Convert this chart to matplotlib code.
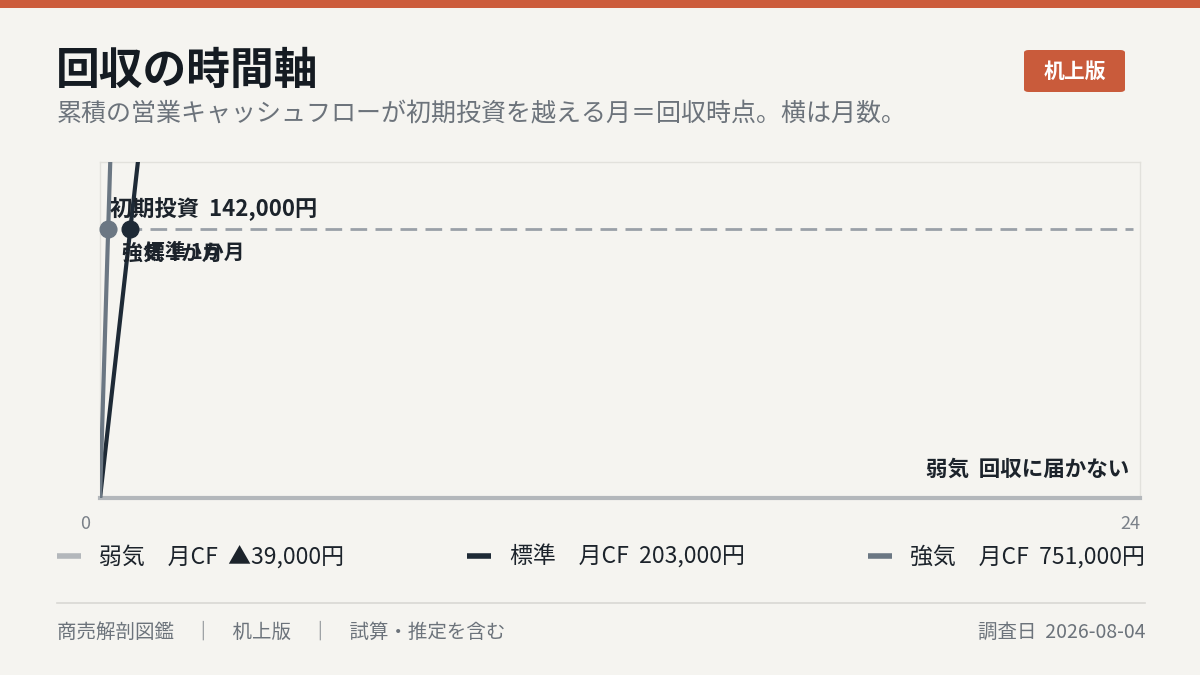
import numpy as np
import matplotlib
matplotlib.use("Agg")
import matplotlib.pyplot as plt
from matplotlib.patches import Rectangle, FancyBboxPatch
from matplotlib.lines import Line2D
from matplotlib.transforms import ScaledTranslation
from matplotlib import font_manager

_names = {f.name for f in font_manager.fontManager.ttflist}
_fam = [n for n in ['Noto Sans Mono CJK JP', 'Noto Sans CJK JP'] if n in _names] + ['DejaVu Sans']
plt.rcParams['font.family'] = _fam

# ---- data ----
scenarios = ["弱気", "標準", "強気"]
monthly_cf = [-39000, 203000, 751000]
initial_investment = 142000
months = np.arange(0, 25)
x_ticks = [0, 24]
x_tick_labels = ["0", "24"]
colors = ["#b3b7bb", "#1e2a36", "#6b7783"]

title = "回収の時間軸"
subtitle = "累積の営業キャッシュフローが初期投資を越える月＝回収時点。横は月数。"
badge = "机上版"
footer_left = "商売解剖図鑑　｜　机上版　｜　試算・推定を含む"
footer_right = "調査日  2026-08-04"

BG = "#f5f4f0"
W, H = 1200, 675
fig = plt.figure(figsize=(W / 100, H / 100), dpi=100, facecolor=BG)

def fx(px):
    return px / W

def fy(py):
    return 1 - py / H

# top bar
fig.patches.append(Rectangle((0, fy(8)), 1, 8 / H, transform=fig.transFigure,
                             facecolor="#cc5c3c", edgecolor="none"))

fig.text(fx(56), fy(84), title, fontsize=31.5, fontweight="bold", color="#151b22",
         va="baseline", ha="left")
fig.text(fx(57), fy(121), subtitle, fontsize=18, color="#6c737b",
         va="baseline", ha="left")

# badge
fig.patches.append(FancyBboxPatch((fx(1024), fy(92)), fx(101), 42 / H,
                                  boxstyle="round,pad=0,rounding_size=0.004",
                                  transform=fig.transFigure,
                                  facecolor="#c95b3b", edgecolor="none"))
fig.text(fx(1074.5), fy(71), badge, fontsize=15, fontweight="bold", color="white",
         ha="center", va="center")

# ---- axes ----
ax = fig.add_axes([fx(100), 1 - 498 / H, fx(1040), (498 - 162) / H])
ax.set_facecolor(BG)
ymax = initial_investment * 1.25
ax.set_xlim(0, 24)
ax.set_ylim(0, ymax)

def fmt(v):
    return ("▲" if v < 0 else "") + f"{abs(v):,}"

lines = []
for name, cf, c in zip(scenarios, monthly_cf, colors):
    cum = cf * months
    ln, = ax.plot(months, cum, color=c, lw=3 if cf > 0 else 4,
                  solid_capstyle="butt", label=f"{name}　月CF  {fmt(cf)}円", zorder=3)
    lines.append(ln)

# investment line
ax.axhline(initial_investment, color="#9aa0a8", lw=2, dashes=(6, 3),
           zorder=2, xmax=0.993)
ax.annotate(f"初期投資  {initial_investment:,}円", xy=(0, initial_investment),
            xytext=(7.5, 14.5), textcoords="offset points", ha="left", va="center",
            fontsize=16, fontweight="bold", color="#1c232b", zorder=5)

# payback markers / labels
for name, cf, c in zip(scenarios, monthly_cf, colors):
    if cf > 0:
        xp = initial_investment / cf
        ax.plot([xp], [initial_investment], "o", color=c, markersize=12,
                zorder=6, clip_on=False)
        m = int(np.ceil(initial_investment / cf))
        ax.annotate(f"{name} {m}か月", xy=(xp, initial_investment),
                    xytext=(10, -17), textcoords="offset points",
                    ha="left", va="center", fontsize=15, fontweight="bold",
                    color="#1c232b", zorder=5)
    else:
        ax.annotate(f"{name}  回収に届かない", xy=(1, 0), xycoords="axes fraction",
                    xytext=(-7.5, 20.5), textcoords="offset points",
                    ha="right", va="center", fontsize=15.5, fontweight="bold",
                    color="#1c232b", zorder=5)

# spines
for s in ["top", "right", "left"]:
    ax.spines[s].set_color("#e2e1dc")
    ax.spines[s].set_linewidth(1)
ax.spines["bottom"].set_color(colors[0])
ax.spines["bottom"].set_linewidth(3)
ax.set_yticks([])
ax.set_xticks(x_ticks)
ax.set_xticklabels(x_tick_labels)
ax.tick_params(axis="x", length=0, pad=12, labelsize=13, labelcolor="#7a8088")
tl = ax.get_xticklabels()
tl[0].set_ha("right")
tl[-1].set_ha("right")
tl[0].set_transform(tl[0].get_transform() + ScaledTranslation(-10 / 100, 0, fig.dpi_scale_trans))

# legend
leg = fig.legend(handles=lines, loc="center left",
                 bbox_to_anchor=(fx(57), fy(557) - 0.02, fx(1088), 0.04),
                 mode="expand", ncol=3, frameon=False, fontsize=16.5,
                 handlelength=1.05, handletextpad=0.8, borderpad=0, borderaxespad=0,
                 labelcolor="#1c232b")
for h in leg.legend_handles:
    h.set_linewidth(4)

# separator
fig.add_artist(Line2D([fx(57), fx(1145)], [fy(603), fy(603)], transform=fig.transFigure,
                      color="#d9d8d4", lw=1.2))
fig.text(fx(57), fy(632), footer_left, fontsize=14, color="#6c737b",
         ha="left", va="center")
fig.text(fx(1145), fy(632), footer_right, fontsize=14, color="#6c737b",
         ha="right", va="center")

fig.savefig("out.png", dpi=100, facecolor=BG)
